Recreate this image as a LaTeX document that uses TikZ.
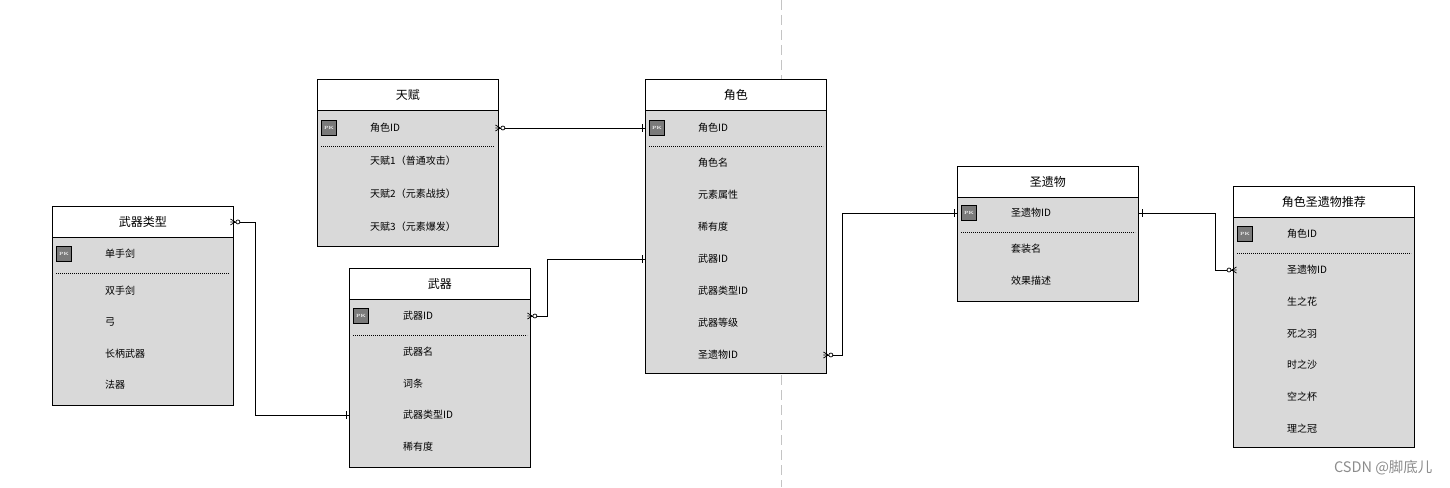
\documentclass[tikz,border=0pt]{standalone}
\usepackage{fontspec}
\newfontfamily\cjk{Noto Sans CJK SC}
\definecolor{bodygray}{HTML}{D9D9D9}
\definecolor{pkgray}{HTML}{7A7A7A}
\definecolor{guide}{HTML}{C4C4C4}
\definecolor{wmark}{HTML}{8C8C8C}
\tikzset{
  hdr/.style={draw, line width=0.9pt, fill=white, minimum width=181pt, minimum height=31pt, anchor=north west, inner sep=0pt, font=\cjk\fontsize{12}{14}\selectfont},
  bodyb/.style={draw, line width=0.9pt, fill=bodygray, minimum width=181pt, anchor=north west, inner sep=0pt},
  fld/.style={anchor=west, inner sep=0pt, font=\cjk\fontsize{10}{12}\selectfont},
  pkbox/.style={draw, line width=0.7pt, fill=pkgray, minimum size=15pt, inner sep=0pt, text=white, font=\fontsize{4.5}{5}\bfseries\selectfont},
  sepline/.style={line width=0.6pt, dash pattern=on 1.2pt off 0.8pt},
  conn/.style={line width=0.9pt},
  mk/.style={line width=0.7pt}
}
\newcommand\entity[5]{%
  \node[hdr] (#1h) at (#2,#3) {#5};
  \node[bodyb, minimum height=#4pt] (#1b) at (#2,#3+31) {};
}
\newcommand\crowo[2]{%
  \begin{scope}[shift={(#1)},xscale=#2]
    \draw[mk] (1.5,0) -- (-3.5,-3) (1.5,0) -- (-3.5,3) (1.5,0) -- (-3.5,0);
    \draw[mk, fill=white] (4,0) circle (2);
  \end{scope}}
\newcommand\onemark[2]{%
  \begin{scope}[shift={(#1)},xscale=#2]
    \draw[mk] (3,-4) -- (3,4);
  \end{scope}}
\begin{document}
\begin{tikzpicture}[x=1pt,y=-1pt]
\useasboundingbox (0,0) rectangle (1450,487);
\draw[guide, line width=1pt, dash pattern=on 10pt off 5pt] (781,0) -- (781,487);

% 天赋
\entity{tf}{317}{79}{136}{天赋}
\node[pkbox] (tfpk) at (329,128) {PK};
\node[fld] (tf1) at (370,128) {角色ID};
\draw[sepline] (321,146) -- (494,146);
\node[fld] (tf2) at (370,161) {天赋1（普通攻击）};
\node[fld] (tf3) at (370,194) {天赋2（元素战技）};
\node[fld] (tf4) at (370,227) {天赋3（元素爆发）};

% 角色
\entity{js}{645}{79}{263}{角色}
\node[pkbox] (jspk) at (657,128) {PK};
\node[fld] (js1) at (698,128) {角色ID};
\draw[sepline] (649,146) -- (823,146);
\node[fld] (js2) at (698,163) {角色名};
\node[fld] (js3) at (698,195) {元素属性};
\node[fld] (js4) at (698,227) {稀有度};
\node[fld] (js5) at (698,259) {武器ID};
\node[fld] (js6) at (698,291) {武器类型ID};
\node[fld] (js7) at (698,323) {武器等级};
\node[fld] (js8) at (698,355) {圣遗物ID};

% 武器类型
\entity{wl}{52}{206}{168}{武器类型}
\node[pkbox] (wlpk) at (64,254) {PK};
\node[fld] (wl1) at (105,254) {单手剑};
\draw[sepline] (56,273) -- (229,273);
\node[fld] (wl2) at (105,291) {双手剑};
\node[fld] (wl3) at (105,322) {弓};
\node[fld] (wl4) at (105,354) {长柄武器};
\node[fld] (wl5) at (105,385) {法器};

% 武器
\entity{wq}{349}{268}{168}{武器}
\node[pkbox] (wqpk) at (361,316) {PK};
\node[fld] (wq1) at (403,316) {武器ID};
\draw[sepline] (353,335) -- (527,335);
\node[fld] (wq2) at (403,352) {武器名};
\node[fld] (wq3) at (403,384) {词条};
\node[fld] (wq4) at (403,415) {武器类型ID};
\node[fld] (wq5) at (403,447) {稀有度};

% 圣遗物
\entity{sy}{957}{166}{104}{圣遗物}
\node[pkbox] (sypk) at (969,213) {PK};
\node[fld] (sy1) at (1011,213) {圣遗物ID};
\draw[sepline] (961,232) -- (1135,232);
\node[fld] (sy2) at (1011,249) {套装名};
\node[fld] (sy3) at (1011,281) {效果描述};

% 角色圣遗物推荐
\entity{tj}{1233}{186}{230}{角色圣遗物推荐}
\node[pkbox] (tjpk) at (1245,234) {PK};
\node[fld] (tj1) at (1287,234) {角色ID};
\draw[sepline] (1237,253) -- (1411,253);
\node[fld] (tj2) at (1287,270) {圣遗物ID};
\node[fld] (tj3) at (1287,302) {生之花};
\node[fld] (tj4) at (1287,334) {死之羽};
\node[fld] (tj5) at (1287,365) {时之沙};
\node[fld] (tj6) at (1287,397) {空之杯};
\node[fld] (tj7) at (1287,429) {理之冠};

% connector end points
\coordinate (a1) at (tfb.east |- tf1);
\coordinate (a2) at (jsb.west |- js1);
\coordinate (b1) at (wqb.east |- wq1);
\coordinate (b2) at (jsb.west |- js5);
\coordinate (c1) at (wlh.east);
\coordinate (c2) at (wqb.west |- wq4);
\coordinate (d1) at (jsb.east |- js8);
\coordinate (d2) at (syb.west |- sy1);
\coordinate (e1) at (syb.east |- sy1);
\coordinate (e2) at (tjb.west |- tj2);

\draw[conn] (a1) -- (a2);
\draw[conn] (b1) -- ++(17,0) |- (b2);
\draw[conn] (c1) -- ++(22,0) |- (c2);
\draw[conn] (d1) -- ++(16,0) |- (d2);
\draw[conn] (e1) -- ++(77,0) |- (e2);

\crowo{a1}{1}  \onemark{a2}{-1}
\crowo{b1}{1}  \onemark{b2}{-1}
\crowo{c1}{1}  \onemark{c2}{-1}
\crowo{d1}{1}  \onemark{d2}{-1}
\onemark{e1}{1} \crowo{e2}{-1}

\node[font=\cjk\fontsize{14.5}{16}\selectfont, text=wmark, anchor=east] (wm) at (1436,468) {CSDN @脚底儿};
\end{tikzpicture}
\end{document}
